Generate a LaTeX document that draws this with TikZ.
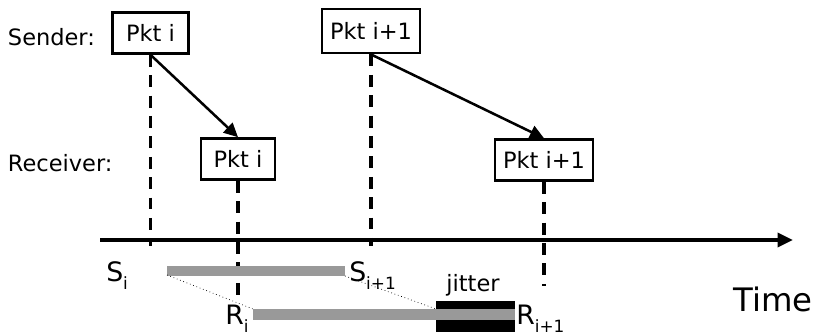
\documentclass[tikz,border=0pt]{standalone}
\usepackage{fontspec}
\setmainfont{DejaVu Sans}
\usetikzlibrary{arrows.meta}

% label with a lowered index
\newcommand{\idx}[2]{#1\raisebox{-0.55ex}{\fontsize{12}{12}\selectfont #2}}

\tikzset{
  pkt/.style={draw, line width=2pt, inner sep=0pt, minimum height=1.02cm,
    font=\fontsize{16}{16}\selectfont},
  side/.style={anchor=west, font=\fontsize{16}{16}\selectfont},
  mark line/.style={line width=2.6pt, dash pattern=on 8.5pt off 6pt},
  msg/.style={line width=1.8pt, -{Triangle[length=10pt,width=9.5pt]}},
  bar/.style={fill=black!40},
  lbl/.style={anchor=base west, inner sep=0pt, font=\fontsize{19}{19}\selectfont}
}

\begin{document}
\begin{tikzpicture}[x=0.025cm,y=-0.025cm]
    \useasboundingbox (0,0) rectangle (818,335);
    % row labels
    \node[side] (snd) at (3,37) {Sender:};
    \node[side] (rcv) at (3,163) {Receiver:};
    % packets
    \node[pkt, minimum width=1.88cm] (si) at (150.5,33) {Pkt i};
    \node[pkt, minimum width=1.85cm] (ri) at (238,159) {Pkt i};
    \node[pkt, minimum width=2.45cm, minimum height=1.1cm] (sn) at (371,31) {Pkt i+1};
    \node[pkt, minimum width=2.45cm] (rn) at (544,160) {Pkt i+1};
    % time axis
    \coordinate (axL) at (100,240);
    \coordinate (axR) at (793,240);
    \draw[line width=2.4pt, -{Triangle[length=11pt,width=10pt]}] (axL) -- (axR);
    \node[anchor=base west, inner sep=0pt, font=\fontsize{23}{23}\selectfont] (time) at (733,311) {Time};
    % dashed time marks
    \draw[mark line] (si.south) -- (si.south |- 0,246);
    \draw[mark line] (ri.south) -- (ri.south |- 0,296);
    \draw[mark line] (sn.south) -- (sn.south |- 0,246);
    \draw[mark line] (rn.south) -- (rn.south |- 0,286);
    % transmissions
    \draw[msg] (si.south) -- (ri.north);
    \draw[msg] (sn.south) -- (rn.north);
    % spacing bars
    \fill (436,301) rectangle (515,332);
    \fill[bar] (167,266) rectangle (345,276);
    \fill[bar] (253,309) rectangle (515,320);
    \draw[dotted, line width=0.5pt] (167,275) -- (253,309);
    \draw[dotted, line width=0.5pt] (345,276) -- (436,309);
    \node[anchor=base, font=\fontsize{16}{16}\selectfont] (jit) at (473,291) {jitter};
    % instants
    \node[lbl] (Si) at (106,281) {\idx{S}{i}};
    \node[lbl] (Sn) at (349,281) {\idx{S}{i+1}};
    \node[lbl] (Ri) at (225,324) {\idx{R}{i}};
    \node[lbl] (Rn) at (516,324) {\idx{R}{i+1}};
\end{tikzpicture}
\end{document}
